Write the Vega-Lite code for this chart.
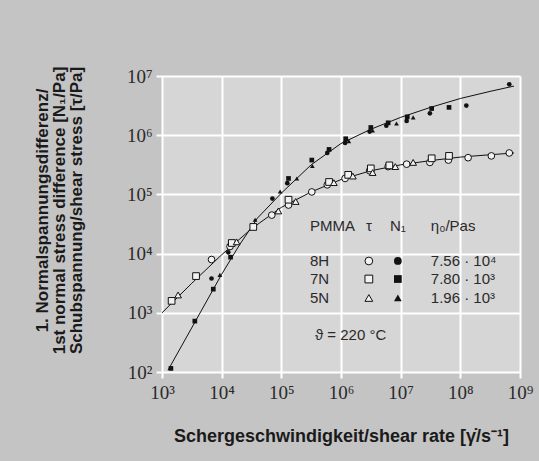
{
  "$schema": "https://vega.github.io/schema/vega-lite/v6.json",
  "width": 358,
  "height": 296,
  "autosize": {"type": "none"},
  "padding": {"left": 162, "top": 76, "right": 19, "bottom": 89},
  "background": "#c4c4c4",
  "config": {
    "view": {"fill": "#d6d6d6", "stroke": null},
    "axis": {
      "domain": false,
      "grid": true,
      "gridColor": "#ffffff",
      "gridWidth": 2,
      "ticks": true,
      "tickColor": "#ffffff",
      "tickWidth": 2,
      "tickSize": 6,
      "labelFont": "Liberation Serif",
      "labelFontSize": 19,
      "labelColor": "#2a2a2a",
      "titleFont": "Liberation Sans",
      "titleFontWeight": "bold",
      "titleFontSize": 17,
      "titleColor": "#1a1a1a"
    }
  },
  "datasets": {
    "tauFit": [
      {"rate": 1000, "stress": 1000},
      {"rate": 3160, "stress": 3160},
      {"rate": 10000, "stress": 9550},
      {"rate": 31600, "stress": 26300},
      {"rate": 100000, "stress": 60300},
      {"rate": 316000, "stress": 110000},
      {"rate": 1000000, "stress": 178000},
      {"rate": 3160000, "stress": 251000},
      {"rate": 10000000, "stress": 316000},
      {"rate": 31600000, "stress": 372000},
      {"rate": 100000000, "stress": 427000},
      {"rate": 316000000, "stress": 468000},
      {"rate": 794000000, "stress": 501000}
    ],
    "n1Fit": [
      {"rate": 1260, "stress": 107},
      {"rate": 3550, "stress": 692},
      {"rate": 10000, "stress": 4470},
      {"rate": 19950, "stress": 14100},
      {"rate": 39800, "stress": 39800},
      {"rate": 100000, "stress": 105000},
      {"rate": 316000, "stress": 316000},
      {"rate": 1000000, "stress": 724000},
      {"rate": 3160000, "stress": 1260000},
      {"rate": 10000000, "stress": 2000000},
      {"rate": 31600000, "stress": 2950000},
      {"rate": 100000000, "stress": 4170000},
      {"rate": 316000000, "stress": 5500000},
      {"rate": 794000000, "stress": 6760000}
    ],
    "tau": [
      {"material": "8H", "rate": 6760, "stress": 7940},
      {"material": "8H", "rate": 13800, "stress": 13200},
      {"material": "8H", "rate": 69200, "stress": 44700},
      {"material": "8H", "rate": 132000, "stress": 66100},
      {"material": "8H", "rate": 324000, "stress": 110000},
      {"material": "8H", "rate": 589000, "stress": 145000},
      {"material": "8H", "rate": 1170000, "stress": 186000},
      {"material": "8H", "rate": 3020000, "stress": 251000},
      {"material": "8H", "rate": 6170000, "stress": 295000},
      {"material": "8H", "rate": 12600000, "stress": 324000},
      {"material": "8H", "rate": 30900000, "stress": 347000},
      {"material": "8H", "rate": 63100000, "stress": 380000},
      {"material": "8H", "rate": 135000000, "stress": 417000},
      {"material": "8H", "rate": 331000000, "stress": 447000},
      {"material": "8H", "rate": 661000000, "stress": 501000},
      {"material": "7N", "rate": 1450, "stress": 1590},
      {"material": "7N", "rate": 3720, "stress": 4170},
      {"material": "7N", "rate": 14800, "stress": 15100},
      {"material": "7N", "rate": 33900, "stress": 28200},
      {"material": "7N", "rate": 132000, "stress": 81300},
      {"material": "7N", "rate": 631000, "stress": 162000},
      {"material": "7N", "rate": 1320000, "stress": 214000},
      {"material": "7N", "rate": 3160000, "stress": 275000},
      {"material": "7N", "rate": 6460000, "stress": 309000},
      {"material": "7N", "rate": 33100000, "stress": 407000},
      {"material": "7N", "rate": 64600000, "stress": 447000},
      {"material": "5N", "rate": 1860, "stress": 2000},
      {"material": "5N", "rate": 17800, "stress": 15800},
      {"material": "5N", "rate": 89100, "stress": 52500},
      {"material": "5N", "rate": 174000, "stress": 75900},
      {"material": "5N", "rate": 759000, "stress": 158000},
      {"material": "5N", "rate": 1580000, "stress": 204000},
      {"material": "5N", "rate": 3390000, "stress": 234000},
      {"material": "5N", "rate": 8130000, "stress": 295000},
      {"material": "5N", "rate": 16200000, "stress": 347000}
    ],
    "n1": [
      {"material": "8H", "rate": 6760, "stress": 3800},
      {"material": "8H", "rate": 12900, "stress": 10500},
      {"material": "8H", "rate": 70800, "stress": 85100},
      {"material": "8H", "rate": 126000, "stress": 155000},
      {"material": "8H", "rate": 589000, "stress": 501000},
      {"material": "8H", "rate": 1170000, "stress": 741000},
      {"material": "8H", "rate": 3020000, "stress": 1150000},
      {"material": "8H", "rate": 5750000, "stress": 1450000},
      {"material": "8H", "rate": 12600000, "stress": 1740000},
      {"material": "8H", "rate": 30900000, "stress": 2340000},
      {"material": "8H", "rate": 126000000, "stress": 3160000},
      {"material": "8H", "rate": 661000000, "stress": 7240000},
      {"material": "7N", "rate": 1410, "stress": 115},
      {"material": "7N", "rate": 3550, "stress": 724},
      {"material": "7N", "rate": 7240, "stress": 2510},
      {"material": "7N", "rate": 14100, "stress": 8710},
      {"material": "7N", "rate": 132000, "stress": 186000},
      {"material": "7N", "rate": 324000, "stress": 380000},
      {"material": "7N", "rate": 631000, "stress": 575000},
      {"material": "7N", "rate": 1200000, "stress": 871000},
      {"material": "7N", "rate": 3160000, "stress": 1350000},
      {"material": "7N", "rate": 6170000, "stress": 1620000},
      {"material": "7N", "rate": 12900000, "stress": 2040000},
      {"material": "7N", "rate": 33100000, "stress": 2820000},
      {"material": "7N", "rate": 64600000, "stress": 2950000},
      {"material": "5N", "rate": 9330, "stress": 4370},
      {"material": "5N", "rate": 36300, "stress": 37200},
      {"material": "5N", "rate": 95500, "stress": 112000},
      {"material": "5N", "rate": 182000, "stress": 186000},
      {"material": "5N", "rate": 331000, "stress": 302000},
      {"material": "5N", "rate": 1350000, "stress": 794000},
      {"material": "5N", "rate": 3390000, "stress": 1200000},
      {"material": "5N", "rate": 8510000, "stress": 1580000},
      {"material": "5N", "rate": 16200000, "stress": 2000000}
    ],
    "legendLeft": [
      {"label": "PMMA", "rate": 301000, "stress": 29200},
      {"label": "η₀/Pas", "rate": 32000000, "stress": 29200},
      {"label": "8H", "rate": 301000, "stress": 7500},
      {"label": "7N", "rate": 301000, "stress": 3720},
      {"label": "5N", "rate": 301000, "stress": 1780},
      {"label": "7.56 · 10⁴", "rate": 32000000, "stress": 7500},
      {"label": "7.80 · 10³", "rate": 32000000, "stress": 3720},
      {"label": "1.96 · 10³", "rate": 32000000, "stress": 1780},
      {"label": "ϑ = 220 °C", "rate": 366000, "stress": 422}
    ],
    "legendCenter": [
      {"label": "τ", "rate": 2930000, "stress": 29200},
      {"label": "N₁", "rate": 8970000, "stress": 29200}
    ],
    "legendOpen": [
      {"material": "8H", "rate": 2930000, "stress": 7500},
      {"material": "7N", "rate": 2930000, "stress": 3720},
      {"material": "5N", "rate": 2930000, "stress": 1780}
    ],
    "legendFilled": [
      {"material": "8H", "rate": 8970000, "stress": 7500},
      {"material": "7N", "rate": 8970000, "stress": 3720},
      {"material": "5N", "rate": 8970000, "stress": 1780}
    ]
  },
  "layer": [
    {
      "data": {"name": "tauFit"},
      "mark": {"type": "line", "color": "#111111", "strokeWidth": 1},
      "encoding": {
        "x": {
          "field": "rate", "type": "quantitative",
          "scale": {"type": "log", "domain": [1000, 1000000000]},
          "axis": {
            "values": [1000, 10000, 100000, 1000000, 10000000, 100000000, 1000000000],
            "labelExpr": "'10' + ['⁰','¹','²','³','⁴','⁵','⁶','⁷','⁸','⁹'][round(log(datum.value)/LN10)]",
            "labelPadding": 5,
            "labelFlush": false,
            "title": "Schergeschwindigkeit/shear rate [γ̇/s⁻¹]",
            "titleFontSize": 18,
            "titlePadding": 25
          }
        },
        "y": {
          "field": "stress", "type": "quantitative",
          "scale": {"type": "log", "domain": [100, 10000000]},
          "axis": {
            "values": [100, 1000, 10000, 100000, 1000000, 10000000],
            "labelExpr": "'10' + ['⁰','¹','²','³','⁴','⁵','⁶','⁷','⁸','⁹'][round(log(datum.value)/LN10)]",
            "labelPadding": 4,
            "labelFlush": false,
            "title": ["1. Normalspannungsdifferenz/", "1st normal stress difference [N₁/Pa]", "Schubspannung/shear stress [τ/Pa]"],
            "titleLineHeight": 17,
            "titleY": 134,
            "titlePadding": 41
          }
        }
      }
    },
    {
      "data": {"name": "n1Fit"},
      "mark": {"type": "line", "color": "#111111", "strokeWidth": 1},
      "encoding": {
        "x": {"field": "rate", "type": "quantitative"},
        "y": {"field": "stress", "type": "quantitative"}
      }
    },
    {
      "data": {"name": "tau"},
      "mark": {"type": "point", "filled": true, "fill": "#f2f2f2", "stroke": "#111111", "strokeWidth": 1, "size": 45, "opacity": 1},
      "encoding": {
        "x": {"field": "rate", "type": "quantitative"},
        "y": {"field": "stress", "type": "quantitative"},
        "shape": {"field": "material", "type": "nominal", "scale": {"domain": ["8H", "7N", "5N"], "range": ["circle", "square", "triangle-up"]}, "legend": null}
      }
    },
    {
      "data": {"name": "n1"},
      "mark": {"type": "point", "filled": true, "color": "#111111", "size": 22, "opacity": 1},
      "encoding": {
        "x": {"field": "rate", "type": "quantitative"},
        "y": {"field": "stress", "type": "quantitative"},
        "shape": {"field": "material", "type": "nominal", "legend": null}
      }
    },
    {
      "data": {"name": "legendLeft"},
      "mark": {"type": "text", "align": "left", "baseline": "middle", "font": "Liberation Sans", "fontSize": 15, "color": "#2a2a2a"},
      "encoding": {
        "x": {"field": "rate", "type": "quantitative"},
        "y": {"field": "stress", "type": "quantitative"},
        "text": {"field": "label"}
      }
    },
    {
      "data": {"name": "legendCenter"},
      "mark": {"type": "text", "align": "center", "baseline": "middle", "font": "Liberation Sans", "fontSize": 15, "color": "#2a2a2a"},
      "encoding": {
        "x": {"field": "rate", "type": "quantitative"},
        "y": {"field": "stress", "type": "quantitative"},
        "text": {"field": "label"}
      }
    },
    {
      "data": {"name": "legendOpen"},
      "mark": {"type": "point", "filled": true, "fill": "#f2f2f2", "stroke": "#111111", "strokeWidth": 1, "size": 60, "opacity": 1},
      "encoding": {
        "x": {"field": "rate", "type": "quantitative"},
        "y": {"field": "stress", "type": "quantitative"},
        "shape": {"field": "material", "type": "nominal", "legend": null}
      }
    },
    {
      "data": {"name": "legendFilled"},
      "mark": {"type": "point", "filled": true, "color": "#111111", "size": 60, "opacity": 1},
      "encoding": {
        "x": {"field": "rate", "type": "quantitative"},
        "y": {"field": "stress", "type": "quantitative"},
        "shape": {"field": "material", "type": "nominal", "legend": null}
      }
    }
  ]
}
